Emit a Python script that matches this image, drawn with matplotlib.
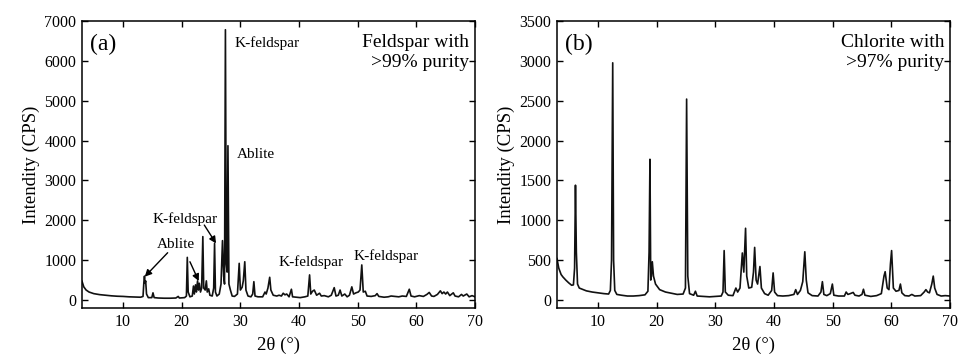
import matplotlib
matplotlib.use("Agg")
import matplotlib.pyplot as plt

plt.rcParams['font.family'] = ['Liberation Serif', 'DejaVu Serif']

# ---------------- data ----------------
feldspar_x = [3.0, 3.3, 3.7, 4.2, 5.0, 6.0, 7.0, 8.0, 9.0, 10.0, 11.0, 12.0, 13.0, 13.4, 13.55, 13.65, 13.75,
              13.85, 14.0, 14.3, 14.9, 15.1, 15.3, 16.0, 17.0, 18.0, 19.0, 19.4, 19.6, 20.5, 20.8, 20.95,
              21.1, 21.4, 21.8, 22.0, 22.15, 22.35, 22.5, 22.7, 22.85, 23.0, 23.2, 23.4, 23.6, 23.75, 24.0,
              24.2, 24.35, 24.6, 24.8, 25.2, 25.45, 25.6, 25.75, 26.0, 26.4, 26.7, 26.95, 27.15, 27.3,
              27.45, 27.6, 27.75, 27.88, 28.05, 28.3, 28.6, 29.0, 29.5, 29.8, 30.0, 30.3, 30.5, 30.75,
              30.95, 31.3, 31.8, 32.1, 32.3, 32.5, 33.0, 33.8, 34.2, 34.4, 34.7, 35.0, 35.2, 35.6, 36.2,
              36.6, 37.0, 37.3, 37.6, 37.9, 38.3, 38.7, 38.9, 39.5, 40.2, 41.0, 41.5, 41.8, 42.0, 42.3,
              42.6, 43.0, 43.5, 43.8, 44.3, 45.0, 45.5, 46.0, 46.3, 46.7, 47.0, 47.3, 47.8, 48.2, 48.6,
              49.0, 49.3, 49.7, 50.1, 50.4, 50.7, 50.95, 51.3, 51.6, 52.3, 53.0, 53.3, 53.6, 54.5, 55.2,
              55.7, 56.3, 57.0, 57.6, 58.3, 58.8, 59.1, 59.7, 60.5, 61.2, 61.8, 62.2, 62.6, 63.0, 63.6,
              64.1, 64.4, 64.7, 65.0, 65.3, 65.7, 66.3, 66.6, 67.2, 67.7, 68.0, 68.6, 69.0, 69.5, 70.0]
feldspar_y = [470, 330, 250, 200, 160, 135, 120, 105, 95, 90, 80, 75, 70, 90, 450, 600, 420,
              480, 150, 60, 60, 180, 60, 50, 45, 45, 50, 90, 50, 60, 100, 1070,
              200, 80, 100, 350, 150, 380, 200, 480, 250, 420, 200, 300, 1590, 300, 250,
              480, 200, 280, 120, 100, 300, 1420, 200, 100, 150, 400, 1490, 600, 400,
              6780, 900, 700, 3870, 400, 250, 100, 90, 150, 920, 250, 320, 480, 960,
              250, 100, 80, 150, 460, 100, 80, 80, 200, 150, 300, 570, 250, 120, 100,
              120, 100, 170, 130, 150, 80, 270, 80, 70, 60, 80, 100, 630, 150, 220,
              250, 120, 170, 100, 110, 80, 120, 310, 100, 120, 250, 100, 150, 80, 120,
              330, 150, 180, 200, 250, 880, 200, 220, 100, 90, 110, 160, 90, 70, 80,
              100, 90, 80, 100, 90, 270, 100, 80, 110, 90, 140, 190, 100, 90, 140,
              230, 160, 200, 150, 200, 110, 180, 100, 80, 140, 100, 150, 80, 110, 80]

chlorite_x = [3.0, 3.3, 3.7, 4.0, 4.5, 5.0, 5.5, 5.8, 6.0, 6.15, 6.3, 6.5, 6.8, 7.5, 8.0, 9.0, 10.0, 11.0,
              11.8, 12.1, 12.3, 12.5, 12.65, 12.85, 13.2, 14.0, 15.0, 16.0, 17.0, 18.0, 18.5, 18.7, 18.85,
              18.98, 19.1, 19.25, 19.45, 19.8, 20.5, 21.5, 22.5, 23.5, 24.5, 24.9, 25.1, 25.3, 25.6, 26.3,
              26.6, 26.9, 28.0, 29.0, 30.0, 31.0, 31.3, 31.5, 31.7, 32.2, 33.0, 33.5, 33.8, 34.2, 34.6,
              34.85, 35.15, 35.35, 35.7, 36.2, 36.5, 36.7, 36.95, 37.2, 37.6, 37.85, 38.4, 39.0, 39.6,
              39.85, 40.1, 40.6, 41.5, 42.5, 43.4, 43.7, 44.0, 44.5, 44.9, 45.25, 45.5, 45.8, 46.5, 47.5,
              48.0, 48.25, 48.5, 49.0, 49.6, 49.95, 50.2, 51.0, 52.0, 52.3, 52.6, 53.0, 53.5, 53.8, 54.5,
              55.0, 55.25, 55.5, 56.5, 57.5, 58.3, 58.75, 58.95, 59.3, 59.6, 59.85, 60.05, 60.35, 60.8,
              61.3, 61.55, 61.8, 62.3, 63.0, 63.5, 64.0, 65.0, 65.6, 65.9, 66.2, 66.5, 66.9, 67.15, 67.4,
              67.8, 68.5, 69.2, 70.0]
chlorite_y = [520, 400, 320, 290, 250, 215, 185, 190, 400, 1440, 600, 200, 150, 130, 115, 100, 90, 80,
              75, 120, 500, 2975, 500, 120, 70, 60, 50, 50, 55, 65, 110, 600, 1765,
              250, 300, 480, 300, 200, 130, 100, 85, 70, 75, 150, 2520, 300, 80, 60,
              110, 50, 45, 40, 45, 50, 100, 620, 100, 60, 55, 150, 100, 150, 590,
              350, 900, 300, 150, 160, 350, 660, 250, 200, 420, 150, 80, 60, 120,
              340, 100, 55, 50, 55, 70, 130, 70, 120, 230, 605, 250, 90, 55, 50,
              100, 230, 70, 55, 80, 200, 60, 50, 50, 100, 70, 80, 95, 60, 50,
              70, 135, 60, 45, 55, 80, 300, 355, 150, 130, 450, 620, 150, 110,
              120, 200, 90, 55, 50, 70, 50, 55, 100, 130, 100, 90, 200, 300, 150,
              70, 50, 55, 50]

x_ticks = [10, 20, 30, 40, 50, 60, 70]
ya_ticks = [0, 1000, 2000, 3000, 4000, 5000, 6000, 7000]
yb_ticks = [0, 500, 1000, 1500, 2000, 2500, 3000, 3500]

# ---------------- figure ----------------
fig = plt.figure(figsize=(9.66, 3.54), dpi=100)
axa = fig.add_axes([0.0849, 0.130, 0.4068, 0.8107])
axb = fig.add_axes([0.5766, 0.130, 0.4068, 0.8107])

tick_fs = 11.5
for ax, xs, ys, yl, yt in [(axa, feldspar_x, feldspar_y, (-200, 7000), ya_ticks),
                           (axb, chlorite_x, chlorite_y, (-100, 3500), yb_ticks)]:
    ax.plot(xs, ys, color='#111111', lw=1.2)
    ax.set_xlim(3, 70)
    ax.set_ylim(*yl)
    ax.set_xticks(x_ticks)
    ax.set_yticks(yt)
    ax.tick_params(direction='in', top=True, right=True, length=4, width=1,
                   labelsize=tick_fs, pad=4)
    for s in ax.spines.values():
        s.set_linewidth(1.1)
    ax.set_ylabel('Intendity (CPS)', fontsize=13.5, labelpad=3)
    ax.set_xlabel('2θ (°)', fontsize=13.5, labelpad=5)

# panel labels and purity texts
axa.text(0.02, 0.955, '(a)', transform=axa.transAxes, fontsize=17, va='top', ha='left')
axa.text(0.985, 0.955, 'Feldspar with\n>99% purity', transform=axa.transAxes,
         fontsize=14, va='top', ha='right', linespacing=1.2)
axb.text(0.02, 0.955, '(b)', transform=axb.transAxes, fontsize=17, va='top', ha='left')
axb.text(0.985, 0.955, 'Chlorite with\n>97% purity', transform=axb.transAxes,
         fontsize=14, va='top', ha='right', linespacing=1.2)

ann_fs = 11
axa.text(29.0, 6450, 'K-feldspar', fontsize=ann_fs, ha='left', va='center')
axa.text(29.4, 3660, 'Ablite', fontsize=ann_fs, ha='left', va='center')
axa.text(20.5, 2030, 'K-feldspar', fontsize=ann_fs, ha='center', va='center')
axa.text(19.0, 1395, 'Ablite', fontsize=ann_fs, ha='center', va='center')
axa.text(42.1, 945, 'K-feldspar', fontsize=ann_fs, ha='center', va='center')
axa.text(54.9, 1110, 'K-feldspar', fontsize=ann_fs, ha='center', va='center')

arrow = dict(arrowstyle='-|>', color='black', lw=1.0, mutation_scale=10, shrinkA=0, shrinkB=0)
axa.annotate('', xy=(13.7, 585), xytext=(17.6, 1186), arrowprops=arrow)
axa.annotate('', xy=(22.9, 476), xytext=(21.4, 960), arrowprops=arrow)
axa.annotate('', xy=(25.85, 1420), xytext=(23.85, 1880), arrowprops=arrow)

fig.savefig('out.png', dpi=100)
